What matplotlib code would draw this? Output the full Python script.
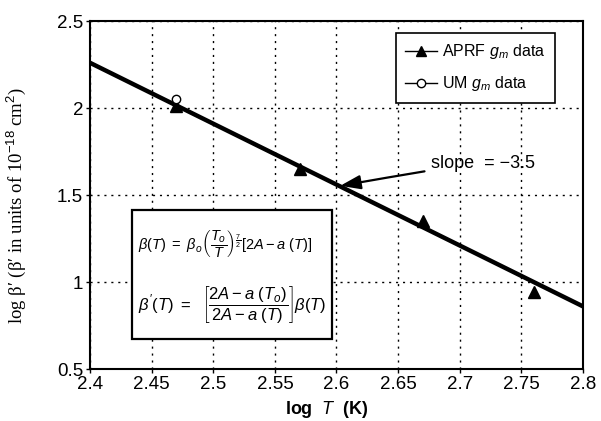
import matplotlib
matplotlib.use("Agg")
import matplotlib.pyplot as plt
from matplotlib.lines import Line2D
from matplotlib.patches import Rectangle

# ---- data ----
aprf_x = [2.47, 2.57, 2.67, 2.76]
aprf_y = [2.01, 1.65, 1.35, 0.94]
um_x = [2.47]
um_y = [2.05]
fit_x = [2.4, 2.8]
fit_y = [2.26, 0.86]
xticks = [2.4, 2.45, 2.5, 2.55, 2.6, 2.65, 2.7, 2.75, 2.8]
yticks = [0.5, 1.0, 1.5, 2.0, 2.5]
xtick_labels = ["2.4", "2.45", "2.5", "2.55", "2.6", "2.65", "2.7", "2.75", "2.8"]
ytick_labels = ["0.5", "1", "1.5", "2", "2.5"]

plt.rcParams['font.family'] = ['Liberation Sans', 'DejaVu Sans']
plt.rcParams['mathtext.fontset'] = 'custom'
plt.rcParams['mathtext.rm'] = 'Liberation Sans'
plt.rcParams['mathtext.it'] = 'Liberation Sans:italic'
plt.rcParams['mathtext.bf'] = 'Liberation Sans:bold'

fig = plt.figure(figsize=(6.01, 4.21), dpi=100)
ax = fig.add_axes([0.1498, 0.1235, 0.8202, 0.8265])

ax.plot(fit_x, fit_y, color='black', lw=3.2, zorder=3)
ax.plot(aprf_x, aprf_y, linestyle='none', marker='^', color='black',
        markersize=8.5, zorder=4)
ax.plot(um_x, um_y, linestyle='none', marker='o', markerfacecolor='white',
        markeredgecolor='black', markersize=6, zorder=5)

ax.set_xlim(2.4, 2.8)
ax.set_ylim(0.5, 2.5)
ax.set_xticks(xticks)
ax.set_xticklabels(xtick_labels)
ax.set_yticks(yticks)
ax.set_yticklabels(ytick_labels)
ax.tick_params(labelsize=13.5, length=3, width=1, direction='out', pad=2)
ax.grid(True, linestyle=(0, (1.5, 3.5)), color='black', linewidth=1.0)
for s in ax.spines.values():
    s.set_linewidth(1.5)

ax.set_xlabel(r"log  $\mathbf{\mathit{T}}$  (K)", fontsize=13, fontweight='bold', labelpad=1)
ax.xaxis.set_label_coords(0.48, -0.085)
ax.set_ylabel(r"log β′ (β′ in units of 10$^{-18}$ cm$^{2}$)",
              fontsize=13.5, family=['Liberation Serif', 'DejaVu Serif'], labelpad=4)
ax.yaxis.set_label_coords(-0.125, 0.47)

# legend
h1 = Line2D([], [], color='black', lw=1, marker='^', markersize=7)
h2 = Line2D([], [], color='black', lw=1, marker='o', markerfacecolor='white', markersize=6)
leg = ax.legend([h1, h2], [r"APRF $g_m$ data", r"UM $g_m$ data"],
                loc='upper right', bbox_to_anchor=(0.943, 0.966), borderaxespad=0,
                fontsize=11.5, frameon=True, fancybox=False, edgecolor='black',
                framealpha=1, handlelength=2.0, borderpad=0.6, labelspacing=0.8,
                handletextpad=0.3)
leg.get_frame().set_linewidth(1.2)

# slope annotation
ax.annotate("slope  = −3.5", xy=(2.603, 1.553), xytext=(2.677, 1.68),
            fontsize=13, va='center', ha='left',
            arrowprops=dict(arrowstyle='-|>,head_length=0.95,head_width=0.33',
                            color='black', lw=1.6,
                            connectionstyle='angle3,angleA=60,angleB=10',
                            shrinkA=3, shrinkB=0))

# formula box
box = Rectangle((0.085, 0.086), 0.405, 0.371, transform=ax.transAxes,
                facecolor='white', edgecolor='black', lw=1.6, zorder=6)
ax.add_patch(box)
ax.text(0.097, 0.362, r"$\beta(T)\ =\ \beta_o\left(\dfrac{T_o}{T}\right)^{\frac{7}{2}}[2A - a\ (T)]$",
        transform=ax.transAxes, fontsize=10.5, va='center', ha='left', zorder=7)
ax.text(0.097, 0.184, r"$\beta'(T)\ =\ \ \left[\dfrac{2A - a\ (T_o)}{2A - a\ (T)}\right]\beta(T)$",
        transform=ax.transAxes, fontsize=12, va='center', ha='left', zorder=7)

fig.savefig("out.png", dpi=100)
